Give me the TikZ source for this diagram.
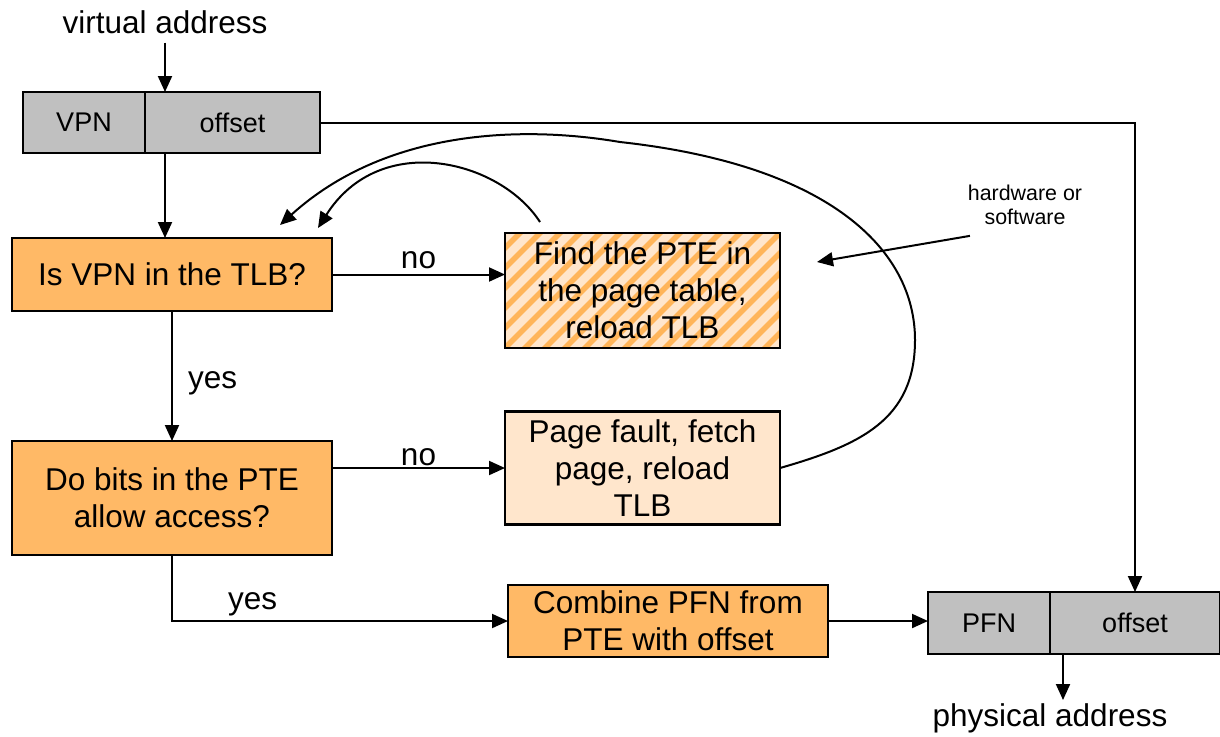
\documentclass[tikz,border=0pt]{standalone}
\usepackage{fontspec}
\setmainfont{Liberation Sans}
\usetikzlibrary{arrows.meta,calc}
\definecolor{boxorange}{HTML}{FFB966}
\definecolor{boxpeach}{HTML}{FFE6CC}
\definecolor{stripeorange}{HTML}{FFB55A}
\definecolor{fieldgrey}{HTML}{C0C0C0}
\begin{document}
\begin{tikzpicture}[x=0.5pt,y=-0.5pt,
  every node/.style={font=\fontsize{15.75}{18.5}\selectfont, inner sep=0pt, outer sep=0pt},
  stepbox/.style={draw, line width=1.3pt, align=center, fill=boxorange},
  softbox/.style={stepbox, fill=boxpeach},
  field/.style={draw, line width=1.3pt, fill=fieldgrey, font=\fontsize{13.5}{16}\selectfont},
  arr/.style={line width=1pt, -{Triangle[length=8pt,width=7pt]}},
  stripe/.style={stripeorange, line width=2.8pt},
  note/.style={font=\fontsize{10.7}{12}\selectfont, align=center}
]
\useasboundingbox (0,0) rectangle (1220,736);

% virtual address fields
\node (vatxt) at (165,22) {virtual address};
\node[field, minimum width=61pt, minimum height=30.5pt] (vpn) at (84,122.5) {VPN};
\node[field, minimum width=87.5pt, minimum height=30.5pt] (vaoff) at (232.5,122.5) {offset};

% decision and action boxes
\node[stepbox, minimum width=160pt, minimum height=36.5pt] (tlb) at (172,274.5) {Is VPN in the TLB?};
\node[stepbox, minimum width=160pt, minimum height=57pt] (pte) at (172,498) {Do bits in the PTE\\allow access?};
\node[softbox, minimum width=137.5pt, minimum height=57.5pt,
  path picture={\foreach \k in {-7,...,15}
    \draw[stripe] ($(path picture bounding box.south west)+(\k*20-10,10)$) -- ++(140,-140);}
  ] (find) at (642.5,290.5) {Find the PTE in\\the page table,\\reload TLB};
\node[softbox, minimum width=137.5pt, minimum height=56.5pt] (pf) at (642.5,468) {Page fault, fetch\\page, reload\\TLB};
\node[stepbox, minimum width=160pt, minimum height=36pt] (comb) at (668,621) {Combine PFN from\\PTE with offset};

% physical address fields
\node[field, minimum width=61pt, minimum height=31pt] (pfn) at (989,623) {PFN};
\node[field, minimum width=85pt, minimum height=31pt] (paoff) at (1135,623) {offset};
\node (patxt) at (1050,718) {physical address};

% annotation
\node[note] (hw) at (1025,205) {hardware or\\software};
\coordinate (hwtip) at (817,262);

% straight connectors
\draw[arr] ($(vatxt.south)+(0,9)$) -- (vatxt.south |- vaoff.north);
\draw[arr] (vatxt.south |- vaoff.south) -- (vatxt.south |- tlb.north);
\draw[arr] (tlb.south) -- node[right=8pt, yshift=-3.5pt]{yes} (pte.north);
\draw[arr] (tlb.east) -- node[above=3pt]{no} (tlb.east -| find.west);
\draw[arr] (pf.west -| pte.east) -- node[above=1pt]{no} (pf.west);
\draw[arr] (pte.south) |- node[pos=0.62, above=2.5pt]{yes} (comb.west);
\draw[arr] (comb.east) -- (comb.east -| pfn.west);
\draw[arr] (vaoff.east) -| (paoff.north);
\draw[arr] ($(paoff.south west)+(13,0)$) -- ++(0,46);
\draw[arr] ($(hw.south west)+(2,11)$) -- (hwtip);

% return paths to the TLB test
\draw[arr] ($(find.north west)+(35,-11)$) .. controls (500,160) and (380,130) .. ($(tlb.north east)+(-14,-10)$);
\draw[arr] (pf.east) .. controls (860,445) and (915,420) .. (915,340)
  .. controls (915,250) and (830,165) .. (620,142)
  .. controls (520,125) and (385,130) .. ($(tlb.north east)+(-52,-13)$);
\end{tikzpicture}
\end{document}
